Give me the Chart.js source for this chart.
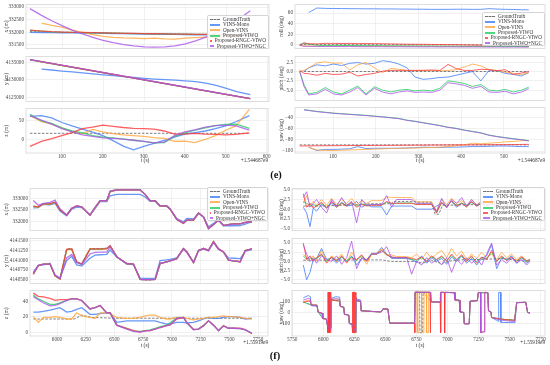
<!DOCTYPE html>
<html>
<head>
<meta charset="utf-8">
<script src="https://cdn.jsdelivr.net/npm/chart.js@4.4.0/dist/chart.umd.min.js"></script>
<style>
  body { margin: 0; background: #fff; }
  #fig { position: relative; width: 550px; height: 365px; overflow: hidden; background: #fff;
         font-family: "Liberation Serif", "DejaVu Serif", serif; color: #333; }
  #fig canvas { position: absolute; }
  .lbl { position: absolute; white-space: nowrap; line-height: 1; }
  .legend { position: absolute; box-sizing: border-box; background: rgba(255,255,255,0.88);
            border: 0.6px solid #d4d4d4; border-radius: 1.5px; padding: 1px 2px 0 2px; }
  .legend .row { display: flex; align-items: center; height: 5.35px; font-size: 5.2px; line-height: 1; white-space: nowrap; }
  .legend .sw { display: inline-block; width: 10px; height: 0; margin: 0 3px 0 0; }
</style>
</head>
<body>
<div id="fig"></div>
<script>
// series, in legend order
const seriesNames = ["GroundTruth", "VINS-Mono", "Open-VINS", "Proposed-VIWO", "Proposed-RNGC-VIWO", "Proposed-VIWO+NGC"];
const seriesColors = ["rgba(105,105,105,0.95)", "rgba(66,125,245,0.8)", "rgba(255,165,60,0.8)",
                      "rgba(35,205,95,0.8)", "rgba(255,55,60,0.8)", "rgba(170,85,230,0.8)"];

// tick values
const xTicksE = [100, 200, 300, 400, 500, 600];
const xTicksF = [5750, 6000, 6250, 6500, 6750, 7000, 7250, 7500, 7750];

// ---------- (e) position, t - 1.544687e9 ----------
const tEL = [22, 50, 75, 100, 125, 150, 175, 200, 225, 250, 275, 300, 325, 350, 375, 400, 425, 450, 475, 500, 525, 558];
const gtX_e = [332020, 332010, 332000, 331995, 331990, 331985, 331975, 331970, 331960, 331955, 331950, 331940, 331935, 331930, 331925, 331920, 331915, 331910, 331905, 331900, 331895, 331890];
const blueX_e = [331990, 331985, 331980, 331975, 331970, 331965, 331960, 331950, 331945, 331940, 331930, 331925, 331920, 331915, 331910, 331900, 331895, 331890, 331885, 331880, 331875, 331870];
const orangeX_e = [null, 332360, 332270, 332200, 332080, 331990, 331900, 331830, 331790, 331770, 331760, 331740, 331760, 331730, 331720, 331760, 331780, 331800, 331780, 331800, 331850, 331900];
const greenX_e = [332070, 332040, 332015, 332000, 331995, 331985, 331975, 331970, 331960, 331955, 331945, 331940, 331935, 331930, 331925, 331920, 331915, 331910, 331905, 331900, 331895, 331890];
const redX_e = [332080, 332045, 332020, 332005, 331995, 331988, 331978, 331970, 331962, 331955, 331948, 331942, 331936, 331930, 331925, 331920, 331915, 331910, 331905, 331900, 331895, 331890];
const purpleX_e = [332940, 332670, 332455, 332260, 332083, 331927, 331792, 331676, 331581, 331506, 331450, 331415, 331400, 331410, 331455, 331534, 331649, 331800, 331985, 332205, 332460, 332853];

const tELin = [22, 150, 306, 450, 558];
const tELinO = [46, 150, 306, 450, 558];
const gtY_e = [4135700, 4133080, 4129900, 4126950, 4124740];
const blueY_e = [null, 4133050, 4132800, 4132500, 4132250, 4132000, 4131720, 4131450, 4131200, 4130950, 4130700, 4130450, 4130250, 4130100, 4129950, 4129750, 4129550, 4129100, 4128500, 4127600, 4126700, 4125870];
const orangeY_e = [4135200, 4133090, 4129900, 4126940, 4124740];
const greenY_e = [4135690, 4133070, 4129880, 4126930, 4124720];
const redY_e = [4135710, 4133085, 4129890, 4126935, 4124730];
const purpleY_e = [4135720, 4133100, 4129910, 4126950, 4124750];

const tEGT = [22, 558];
const gtZ_e = [16, 16];
const blueZ_e = [60, 62, 56, 44, 35, 27, 19, 10, -3, -17, -27, -18, -10, -2, 6, 14, 18, 22, 28, 35, 46, 62];
const orangeZ_e = [62, 46, 40, 30, 20, 15, 26, 20, 15, 12, 10, 8, 5, 3, -5, -4, -8, 0, 10, 24, 35, 78];
const greenZ_e = [65, 48, 42, 30, 22, 17, 10, 6, 4, 1, -2, -5, -9, -8, 8, 17, 24, 30, 36, 39, 40, 29];
const redZ_e = [-18, -5, 2, 10, 18, 28, 32, 37, 34, 31, 29, 28, 27, 22, 14, 14, 16, 14, 13, 12, 13, 17];
const purpleZ_e = [62, 50, 40, 28, 20, 12, 8, 4, 3, 1, -2, -5, -9, -7, 10, 20, 25, 32, 36, 37, 35, 24];

// ---------- (e) attitude ----------
const tER = [22, 32, 43, 62, 82, 101, 120, 139, 158, 177, 197, 216, 235, 254, 273, 292, 311, 331, 350, 369, 388, 407, 426, 446, 465, 484, 503, 522, 541, 558];
const gtRoll_e = [0.2, -0.3];
const blueRoll_e = [null, null, 61, 69.5, 68.8, 68.6, 68.5, 68.3, 68.2, 68.0, 68.0, 67.8, 67.8, 67.6, 67.5, 67.3, 67.2, 67.0, 67.0, 67.0, 67.2, 67.2, 67.0, 67.0, 68.3, 67.5, 67.0, 66.8, 66.3, 66.0];
const orangeRoll_e = [-1.5, -2.5, -2.5, -2.8, -2.5, -2.6, -2.7, -2.5, -2.6, -2.8, -2.7, -2.8, -2.9, -2.8, -3.0, -3.0, -3.1, -3.0, -3.2, -3.1, -3.2, -3.3, -3.2, -3.3, -3.4, -3.3, -3.5, -3.4, -3.5, -3.5];
const greenRoll_e = [0.5, 3.0, 1.0, -1.0, -1.5, -1.2, -1.5, -1.4, -1.6, -1.8, -1.7, -2.0, -2.1, -2.2, -2.3, -2.4, -2.5, -2.6, -2.7, -2.8, -2.9, -3.0, -3.0, -3.1, -3.2, -3.3, -3.4, -3.4, -3.5, -3.6];
const redRoll_e = [-2.0, 3.5, 2.0, 1.5, 2.5, 2.5, 2.2, 2.5, 2.0, 2.2, 2.0, 1.8, 1.5, 1.2, 1.0, 0.8, 0.8, 0.5, 0.3, 0.2, 0.0, -0.3, -0.5, -0.8, -1.0, -1.2, -1.5, -1.5, -1.8, -2.0];
const purpleRoll_e = [-1.0, -3.0, -3.2, -3.3, -3.5, -3.4, -3.6, -3.5, -3.7, -3.8, -3.7, -3.8, -3.9, -3.9, -4.0, -4.0, -4.1, -4.0, -4.2, -4.1, -4.2, -4.3, -4.2, -4.3, -4.4, -4.3, -4.5, -4.4, -4.5, -4.5];

const gtPitch_e = [0.0, 0.0];
const bluePitch_e = [null, 0.0, 1.0, 1.8, 1.5, 2.0, 1.6, 2.2, 2.4, 2.0, 2.2, 2.9, 2.6, 2.0, 1.0, -1.5, -2.1, -1.9, -1.6, -1.5, -1.0, -0.5, 0.0, -2.5, 0.3, 0.2, -0.5, -0.8, -1.2, -0.3];
const orangePitch_e = [0.0, 0.3, 1.0, 2.3, 2.6, 2.2, 2.3, 0.4, 1.8, 2.4, 1.0, -0.3, 0.8, 0.6, 0.3, 0.3, 0.3, 0.3, 0.2, 0.3, 0.5, 1.2, 2.0, 1.5, 0.5, 0.3, -0.2, -0.5, -0.8, -0.3];
const greenPitch_e = [0.0, -3.5, -6.0, -5.6, -4.3, -5.5, -6.0, -5.0, -3.9, -6.0, -4.1, -5.0, -5.5, -5.0, -4.8, -5.2, -5.0, -5.2, -4.5, -2.5, -2.8, -3.2, -4.0, -3.5, -5.0, -5.2, -4.8, -5.5, -5.0, -4.2];
const redPitch_e = [0.3, -0.5, -0.6, -1.0, -0.5, -0.8, -0.7, -0.2, -1.2, -0.8, -0.5, 0.1, 0.3, 0.3, 0.3, 0.3, 0.3, 0.4, 0.3, 1.9, 0.8, 0.3, 0.3, 0.6, 0.5, 0.2, 0.5, -0.8, -0.4, 0.0];
const purplePitch_e = [0.0, -4.0, -6.3, -6.0, -4.8, -6.0, -6.3, -5.5, -4.3, -6.3, -4.5, -5.5, -6.0, -5.5, -5.2, -5.6, -5.5, -5.6, -5.0, -3.0, -3.3, -3.7, -4.5, -4.0, -5.5, -5.6, -5.3, -6.0, -5.5, -4.6];

const gtYaw_e = [-89, -89];
const blueYaw_e = [null, null, -93, -99, -97, -97, -96.5, -96, -92, -95.5, -95, -95, -95, -95, -94.5, -94, -93, -93.5, -93.5, -93, -93, -92.5, -92, -92, -91.5, -91, -91, -91.5, -92, -92];
const orangeYaw_e = [null, null, -93, -98, -99, -99, -98.5, -98, -97.5, -97, -96.5, -96, -95.5, -95, -95, -94.5, -94, -93.5, -93, -92, -90.5, -89, -86, -87, -86, -85, -83.5, -83, -81.5, -81];
const greenYaw_e = [null, -26.5, -27.5, -29.5, -31, -32.5, -33.5, -34.5, -35.5, -36.5, -37.8, -39, -40.5, -42, -45, -47, -49.5, -52, -54.5, -57.5, -59.5, -62.5, -65, -67.5, -71.5, -74, -76, -78, -79.5, -81.5];
const redYaw_e = [-91, -91, -90.8, -90.6, -90.5, -90.4, -90.3, -90.2, -90.1, -90, -90, -89.9, -89.8, -89.7, -89.6, -89.5, -89.4, -89.3, -89.2, -89.1, -89, -89, -88.9, -88.8, -88.7, -88.6, -88.5, -88.4, -88.2, -88];
const purpleYaw_e = [null, -27, -28, -30, -31.5, -33, -34, -35, -36, -37, -38.3, -39.5, -41, -42.5, -45.5, -47.5, -50, -52.5, -55, -58, -60, -63, -65.5, -68, -72, -74.5, -76.6, -78.5, -80, -82];

// ---------- (f) position, t - 1.55919e9 ----------
const tFL = [5794, 5837, 5881, 5939, 5983, 6026, 6084, 6128, 6171, 6215, 6287, 6331, 6375, 6433, 6462, 6520, 6607, 6665, 6723, 6767, 6810, 6854, 6897, 6955, 6984, 7042, 7100, 7130, 7188, 7231, 7275, 7318, 7362, 7405, 7449, 7492, 7536, 7594, 7638, 7696];
const gtX_f = [332650, 332630, 332760, 332760, 332830, 332500, 332280, 332570, 332670, 332630, 332280, 332600, 332900, 332900, 333300, 333380, 333380, 333380, 333380, 333170, 332900, 332900, 332680, 332680, 332550, 332110, 331940, 332080, 332080, 332370, 332210, 331720, 331890, 332070, 331850, 331890, 331920, 331920, 331970, 332000];
const blueX_f = [332590, 332600, 332740, 332720, 332780, 332450, 332250, 332530, 332620, 332600, 332280, 332560, 332850, 332850, 333100, 333160, 333160, 333160, 333160, 333050, 332870, 332870, 332650, 332650, 332540, 332130, 332000, 332140, 332120, 332370, 332220, 331790, 331930, 332100, 331830, 331830, 331830, 331840, 331900, 332000];
const orangeX_f = [332640, 332620, 332750, 332750, 332820, 332510, 332290, 332560, 332660, 332620, 332290, 332590, 332880, 332880, 333270, 333340, 333340, 333340, 333340, 333150, 332880, 332880, 332660, 332660, 332530, 332110, 331950, 332060, 332060, 332360, 332190, 331730, 331890, 332060, 331850, 331890, 331920, 331920, 331970, 332000];
const greenX_f = [332650, 332630, 332760, 332760, 332830, 332500, 332280, 332570, 332670, 332630, 332280, 332600, 332890, 332890, 333290, 333350, 333350, 333350, 333350, 333160, 332890, 332890, 332670, 332670, 332540, 332100, 331930, 332070, 332070, 332370, 332200, 331710, 331880, 332070, 331840, 331880, 331910, 331910, 331970, 332000];
const redX_f = [332660, 332630, 332760, 332760, 332830, 332500, 332280, 332570, 332670, 332630, 332280, 332600, 332895, 332895, 333290, 333355, 333355, 333355, 333355, 333160, 332895, 332895, 332670, 332670, 332540, 332100, 331930, 332070, 332070, 332370, 332200, 331710, 331880, 332070, 331840, 331880, 331910, 331910, 331970, 332000];
const purpleX_f = [332900, 332700, 332780, 332820, 332920, 332550, 332290, 332570, 332670, 332630, 332290, 332610, 332890, 332890, 333280, 333350, 333350, 333350, 333350, 333150, 332890, 332890, 332670, 332670, 332540, 332110, 331940, 332070, 332080, 332360, 332200, 331720, 331880, 332060, 331850, 331880, 331900, 331910, 331960, 332000];

const gtY_f = [4140640, 4140860, 4140900, 4140900, 4140600, 4140520, 4141290, 4141300, 4140960, 4140900, 4141300, 4141300, 4141300, 4141310, 4141380, 4141090, 4140920, 4140900, 4140500, 4140490, 4140490, 4140500, 4140920, 4140960, 4140980, 4141040, 4141310, 4141210, 4140940, 4141260, 4141310, 4141260, 4141490, 4141290, 4141210, 4141000, 4140980, 4140960, 4141260, 4141290];
const blueY_f = [4140700, 4140860, 4140880, 4140920, 4140620, 4140540, 4140990, 4141100, 4140880, 4140850, 4141050, 4141130, 4141140, 4141150, 4141260, 4141080, 4140900, 4140890, 4140540, 4140530, 4140530, 4140540, 4140990, 4141010, 4141020, 4141060, 4141280, 4141200, 4140960, 4141230, 4141290, 4141240, 4141450, 4141280, 4141210, 4141060, 4141050, 4141040, 4141230, 4141270];
const orangeY_f = [4140650, 4140860, 4140900, 4140900, 4140600, 4140520, 4141270, 4141280, 4140950, 4140900, 4141280, 4141280, 4141280, 4141290, 4141360, 4141090, 4140910, 4140900, 4140510, 4140500, 4140500, 4140510, 4140910, 4140960, 4140980, 4141040, 4141290, 4141210, 4140940, 4141250, 4141290, 4141250, 4141470, 4141290, 4141210, 4141000, 4140980, 4140960, 4141240, 4141290];
const greenY_f = [4140645, 4140860, 4140900, 4140900, 4140600, 4140520, 4141275, 4141285, 4140955, 4140900, 4141285, 4141285, 4141285, 4141295, 4141365, 4141090, 4140912, 4140900, 4140510, 4140500, 4140500, 4140510, 4140912, 4140960, 4140980, 4141040, 4141295, 4141210, 4140940, 4141250, 4141295, 4141250, 4141475, 4141290, 4141210, 4141000, 4140980, 4140960, 4141245, 4141290];
const redY_f = [4140640, 4140860, 4140900, 4140900, 4140600, 4140520, 4141280, 4141290, 4140960, 4140900, 4141290, 4141290, 4141290, 4141300, 4141370, 4141090, 4140915, 4140900, 4140510, 4140500, 4140500, 4140510, 4140915, 4140960, 4140980, 4141040, 4141300, 4141210, 4140940, 4141250, 4141300, 4141250, 4141480, 4141290, 4141210, 4141000, 4140980, 4140960, 4141250, 4141290];
const purpleY_f = [4140660, 4140870, 4140900, 4140900, 4140610, 4140530, 4141060, 4141150, 4140940, 4140890, 4141160, 4141200, 4141210, 4141210, 4141340, 4141090, 4140910, 4140900, 4140510, 4140500, 4140500, 4140510, 4140920, 4140960, 4140980, 4141040, 4141300, 4141210, 4140940, 4141250, 4141300, 4141250, 4141470, 4141290, 4141210, 4141010, 4140980, 4140960, 4141250, 4141290];

const tFGT = [5794, 6150, 6215, 6300, 6500, 7696];
const gtZ_f = [17, 17, 22, 19, 18, 18];
const blueZ_f = [26, 26, 27, 28.6, 30, 31.6, 26, 27, 29.5, 31.6, 23, 23, 24, 25, 25, 12.6, 14.7, 14.7, 14.7, 14.7, 14.7, 14.7, 12.6, 10.5, 10.5, 12.6, 12.6, 11.8, 12.6, 14.7, 17, 19, 17.7, 17.7, 19, 20, 20, 19, 17, 17.7];
const orangeZ_f = [20, 12.6, 19, 19, 20, 19, 17, 17, 25, 21, 19, 17.7, 25, 25, 24, 19, 17.7, 18, 19, 21, 22, 22, 19, 17, 17, 19, 19, 17.7, 16, 17, 17.7, 19, 19, 20, 21, 20, 20, 19, 17.7, 17];
const greenZ_f = [48, 43, 40, 36, 36, 38, 41, 43, 43, 41, 30, 31.6, 34.5, 25, 25, 9, 4.5, 1.5, 1, 2, 3, 5, 7, 9, 12, 18, 19, 12, 3.5, 4, 8.4, 14.7, 9, 2, 8, 5, 5, 4.5, 3, -1.5];
const redZ_f = [50.5, 46.3, 45.5, 43.8, 41, 42, 42, 43, 43, 41, 30, 31.6, 34.5, 25, 25, 9, 5, 2, 0, 2, 2, 4, 6, 8.4, 9.3, 17, 19, 12.6, 3.4, 4, 8.4, 14.7, 9.3, 2, 8.4, 5, 5, 5, 3.4, -2];
const purpleZ_f = [46, 42, 38, 34, 34.5, 37, 41, 43, 43, 41, 30, 31.6, 34.5, 25, 25, 9, 4, 1, 0, 1.5, 2, 4, 6, 8.4, 9.3, 18, 19, 12, 3, 4, 8.4, 14.7, 9, 2, 8, 5, 5, 4.5, 3, -1.5];

// ---------- (f) attitude ----------
const tFR = [5839, 5866, 5893, 5919, 5946, 5986, 6027, 6067, 6107, 6148, 6188, 6228, 6268, 6309, 6349, 6389, 6429, 6470, 6510, 6550, 6590, 6631, 6671, 6711, 6751, 6792, 6832, 6872, 6912, 6953, 6993, 7033, 7073, 7114, 7154, 7194, 7235, 7275, 7315, 7355, 7396, 7436, 7476, 7516, 7557, 7597, 7637, 7664];
const tFRollGT = [5839, 5946, 6148, 6389, 6550, 6560, 6740, 6751, 6872, 6900, 6930, 6960, 7235, 7476, 7664];
const gtRoll_f = [0.8, 0.8, 1.0, 1.4, 1.4, 2.0, 2.0, 1.8, 1.8, -1.3, -1.3, 1.0, 1.2, 1.3, 1.3];
const blueRoll_f = [0.5, -1.0, -4.5, 0.3, -0.5, 1.2, 0.3, 1.5, 0.5, 1.8, 0.8, 1.0, 2.0, 0.5, 1.2, 0.6, 0.6, 0.6, -1.5, 0.8, 0.8, 0.8, 0.8, 0.8, 0.0, 0.0, 0.0, 0.0, 0.8, 1.5, 0.8, 2.0, 0.5, 1.5, 1.0, 1.8, 0.8, 1.5, 0.3, 1.5, 0.5, 1.8, 1.0, 1.5, 0.8, 1.2, 0.5, 1.0];
const orangeRoll_f = [1.5, 3.5, 1.0, 2.0, 1.0, 2.5, 1.0, 2.8, 1.2, 2.5, 1.5, 2.8, 1.0, 2.2, 1.5, 2.2, 2.2, 2.2, 3.2, 3.0, 3.0, 3.0, 3.0, 3.0, 1.9, 1.9, 1.9, 1.9, -0.6, 2.5, 1.2, 2.8, 1.5, 2.2, 1.0, 2.5, 1.2, 2.0, 1.5, 2.2, 1.0, 2.5, 1.5, 2.0, 1.2, 2.5, 1.5, 2.0];
const greenRoll_f = [2.0, 1.5, 1.0, 1.2, 0.8, 1.5, 0.5, 1.8, 0.8, 1.6, 1.0, 1.5, 0.8, 1.4, 1.0, 1.1, 1.1, 1.1, 1.8, 1.3, 1.6, 1.6, 1.6, 1.6, 1.3, 1.3, 1.3, 1.3, -0.8, 1.6, 0.7, 2.0, 1.0, 1.6, 0.7, 1.8, 0.9, 1.6, 0.9, 1.8, 0.8, 2.0, 1.1, 1.6, 1.0, 1.9, 1.2, 1.4];
const redRoll_f = [4.0, 0.5, 1.5, 0.3, 0.8, 1.8, 0.2, 2.0, 0.5, 1.5, 0.8, 1.8, 0.5, 1.2, 0.8, 1.0, 1.0, 1.0, 2.0, 1.5, 1.5, 1.5, 1.5, 1.5, 1.2, 1.2, 1.2, 1.2, -1.0, 1.8, 0.5, 2.2, 0.8, 1.5, 0.5, 2.0, 0.8, 1.5, 0.8, 1.8, 0.5, 2.0, 1.0, 1.5, 0.8, 1.8, 1.0, 1.2];
const purpleRoll_f = [3.0, 4.5, 0.5, 1.5, 2.5, 0.5, -1.0, 2.5, 0.8, 3.0, 1.0, 2.0, -3.5, 2.5, 1.0, 1.2, 1.2, 1.2, 3.5, 0.5, 2.5, 2.5, 2.5, 2.5, 1.5, 1.5, 1.5, 1.5, -0.5, 2.8, 0.3, 2.5, 1.5, 3.0, 0.8, 2.5, 1.0, 2.0, 1.0, 2.5, 1.5, 2.8, 0.8, 2.0, 1.5, 2.8, 2.0, 2.5];

const tFPitchGT = [5839, 6389, 6470, 6550, 6738, 6800, 6870, 6950, 7033, 7114, 7275, 7436, 7557, 7664];
const gtPitch_f = [0.3, 0.4, 0.4, 0.0, 0.0, -0.5, 0.3, -0.6, 0.2, 0.4, 0.5, 0.8, 0.3, 0.0];
const bluePitch_f = [-1, -5, -3, 0.5, 0.8, 3.5, 0.5, 1.0, -0.5, 1.2, 0.0, 1.5, -1.0, 0.8, 0.3, 2.2, 2.2, 3.8, 2.0, 0.8, 0.8, 0.8, 0.8, 0.5, -0.3, 1.5, -0.5, 1.0, 0.0, 0.8, -0.8, 1.2, 0.0, 1.5, -0.5, 0.8, -1.0, 0.8, 1.5, 4.5, -2.0, 1.0, 0.5, 1.5, -0.5, 1.0, -0.5, 0.3];
const orangePitch_f = [2.0, 1.0, 0.5, 1.5, 0.2, 3.0, 0.0, 1.5, 0.5, 2.0, -0.5, 2.5, 0.3, 1.5, -0.8, 2.0, 2.0, 3.5, 1.8, 1.8, 1.3, 1.3, 1.3, 1.0, 2.0, 0.5, 2.5, 0.8, 2.0, 3.0, 1.0, 3.5, 1.5, 2.8, 0.5, 2.0, 0.8, 2.5, 1.0, 2.0, 0.5, 2.5, 1.0, 2.0, 0.5, 1.5, 0.0, 0.5];
const greenPitch_f = [1.5, 0.5, 1.0, 0.5, 0.8, 1.8, 0.0, 1.0, 0.3, 1.2, 0.2, 1.2, 0.3, 1.5, 0.2, 2.0, 2.0, 3.0, 1.8, 1.1, 1.0, 1.0, 1.0, 0.5, 0.3, 1.0, 0.2, 1.2, 0.4, 1.2, 0.2, 1.6, 0.4, 1.5, 0.2, 1.2, 0.0, 1.0, 0.6, 2.5, 0.0, 1.2, 0.3, 1.0, 0.1, 1.0, 0.0, 0.4];
const redPitch_f = [5.0, 0.5, 1.5, 0.0, 1.0, 2.0, -0.5, 1.2, 0.0, 1.5, -0.3, 1.0, 0.5, 1.8, 0.0, 2.0, 2.0, 3.0, 1.8, 1.2, 1.0, 1.0, 1.0, 0.8, 0.5, 1.2, 0.0, 1.5, 0.5, 1.5, 0.0, 2.0, 0.5, 1.8, 0.0, 1.5, -0.5, 1.2, 0.5, 3.0, 0.0, 1.5, 0.2, 1.2, 0.0, 1.2, 0.2, 0.5];
const purplePitch_f = [4.5, 2.0, 0.0, 1.0, -0.5, 1.5, 0.5, 0.0, 1.5, -0.8, 1.0, 5.5, -2.0, 1.0, 0.5, 2.0, 2.0, 2.5, 4.0, 1.0, 1.0, 1.0, 1.0, -3.5, 0.0, -1.0, 1.0, -0.5, 0.5, -1.0, 1.0, -3.0, 0.5, -0.8, 1.0, -0.5, 0.8, -1.0, 2.0, 5.0, -1.0, 0.5, -0.5, 1.0, -0.5, 0.5, -1.0, 0.0];

// yaw wraps at +-180, so each series keeps its own time stamps
const gtYawT = [5839, 5902, 5950, 5958, 5996, 6025, 6033, 6062, 6064, 6132, 6136, 6165, 6170, 6205, 6210, 6232, 6240, 6243, 6262, 6266, 6300, 6305, 6465, 6480, 6520, 6535, 6735, 6739, 6775, 6778, 6800, 6803, 6868, 6940, 6944, 7055, 7060, 7095, 7100, 7130, 7135, 7175, 7182, 7240, 7248, 7325, 7330, 7350, 7355, 7436, 7540, 7557, 7630, 7645, 7664];
const gtYaw_f = [92, 67, 64, 4, -54, -59, -111, -140, 112, 102, 55, 45, -15, -25, -96, -101, -180, 180, 178, 106, 96, 15, 5, 30, 30, -95, -95, 180, 180, -180, -180, 180, 95, 92, 178, 176, 110, 108, 5, 0, -100, -100, 100, 105, 176, 176, 15, 5, -45, -60, -68, 88, 90, 0, -5];
const blueYawT = [5839, 5879, 5896, 5902, 5950, 5958, 5990, 5996, 6025, 6033, 6062, 6064, 6100, 6132, 6136, 6165, 6170, 6205, 6210, 6232, 6236, 6262, 6266, 6300, 6305, 6400, 6465, 6480, 6520, 6535, 6735, 6739, 6860, 6868, 6940, 6944, 6975, 7055, 7060, 7095, 7100, 7130, 7135, 7175, 7182, 7240, 7248, 7300, 7325, 7330, 7350, 7355, 7395, 7410, 7412, 7428, 7430, 7489, 7543, 7557, 7630, 7645, 7664];
const blueYaw_f = [130, 150, 140, 60, 55, 0, -10, -50, -58, -115, -130, 125, 140, 135, 55, 45, -15, -25, -100, -110, -175, -175, 120, 110, 15, 8, 5, 32, 32, -95, -95, 180, 178, 95, 92, 178, 178, 175, 112, 108, 5, 0, -100, -100, 100, 105, 175, 175, 175, 15, 5, -45, -70, -80, 178, 178, -88, -90, -90, 85, 90, 0, -5];
const orangeYawT = [5839, 5879, 5896, 5902, 5950, 5958, 5990, 5996, 6025, 6033, 6062, 6064, 6100, 6132, 6136, 6165, 6170, 6205, 6210, 6232, 6238, 6242, 6246, 6252, 6262, 6266, 6300, 6305, 6400, 6465, 6480, 6520, 6535, 6735, 6739, 6755, 6757, 6770, 6772, 6790, 6792, 6810, 6812, 6830, 6832, 6845, 6848, 6868, 6940, 6944, 7055, 7060, 7095, 7100, 7130, 7135, 7175, 7182, 7240, 7248, 7300, 7325, 7330, 7350, 7355, 7436, 7540, 7557, 7630, 7645, 7664];
const orangeYaw_f = [95, 108, 104, 66, 62, 3, -6, -54, -60, -112, -140, 115, 118, 112, 55, 45, -15, -25, -96, -102, -180, 180, -180, 180, -178, 108, 98, 15, 8, 5, 30, 30, -95, -95, 180, 180, -180, -180, 180, 180, -180, -180, 180, 180, -180, -180, 180, 95, 92, 178, 176, 111, 108, 5, 0, -100, -100, 100, 105, 176, 176, 176, 15, 5, -45, -62, -72, 87, 90, 0, -5];
const greenYawT = [5839, 5902, 5950, 5958, 5996, 6025, 6033, 6062, 6064, 6132, 6136, 6165, 6170, 6205, 6210, 6232, 6262, 6266, 6300, 6305, 6465, 6480, 6520, 6535, 6735, 6739, 6865, 6868, 6940, 6944, 7055, 7060, 7095, 7100, 7130, 7135, 7175, 7182, 7240, 7248, 7325, 7330, 7350, 7355, 7436, 7540, 7557, 7630, 7645, 7664];
const greenYaw_f = [92, 67, 64, 4, -54, -59, -111, -140, 112, 102, 55, 45, -15, -25, -96, -101, -178, 106, 96, 15, 5, 30, 30, -95, -95, 178, 178, 94, 92, 178, 176, 110, 108, 5, 0, -100, -100, 100, 105, 176, 176, 15, 5, -45, -60, -68, 88, 90, 0, -5];
const redYawT = [5839, 5879, 5896, 5902, 5950, 5958, 5990, 5996, 6025, 6033, 6036, 6038, 6042, 6046, 6050, 6054, 6058, 6061, 6064, 6100, 6132, 6136, 6165, 6170, 6205, 6210, 6232, 6234, 6237, 6241, 6245, 6249, 6253, 6257, 6261, 6266, 6300, 6305, 6400, 6465, 6480, 6520, 6535, 6735, 6737, 6739, 6860, 6862, 6864, 6868, 6940, 6944, 6946, 6949, 6975, 6977, 6980, 7055, 7060, 7095, 7100, 7130, 7135, 7175, 7182, 7240, 7248, 7266, 7268, 7270, 7298, 7300, 7325, 7330, 7350, 7355, 7390, 7436, 7480, 7540, 7557, 7630, 7645, 7664];
const redYaw_f = [90, 100, 98, 68, 65, 5, -5, -55, -60, -110, -180, 180, -180, 180, -180, 180, -180, 180, 110, 105, 100, 55, 45, -15, -25, -95, -100, -180, 180, -180, 180, -180, 180, -180, 180, 105, 95, 15, 8, 5, 30, 30, -95, -95, -180, 180, 180, -180, 180, 95, 92, 180, -180, 180, 178, -180, 180, 175, 110, 108, 5, 0, -100, -100, 100, 105, 175, 178, -180, -175, -170, 180, 175, 15, 5, -45, -50, -60, -65, -70, 88, 90, 0, -5];
const purpleYawT = [5839, 5879, 5896, 5902, 5950, 5958, 5990, 5996, 6025, 6033, 6062, 6064, 6100, 6132, 6136, 6165, 6170, 6205, 6210, 6232, 6262, 6266, 6300, 6305, 6400, 6465, 6480, 6520, 6535, 6735, 6739, 6865, 6868, 6940, 6944, 7055, 7060, 7095, 7100, 7130, 7135, 7175, 7182, 7240, 7248, 7266, 7268, 7298, 7300, 7325, 7330, 7350, 7355, 7390, 7436, 7480, 7540, 7557, 7630, 7645, 7664];
const purpleYaw_f = [110, 125, 118, 64, 60, 3, -8, -52, -59, -112, -150, 118, 122, 118, 56, 45, -15, -25, -97, -105, -178, 112, 102, 15, 8, 5, 31, 31, -95, -95, 178, 178, 93, 91, 178, 176, 111, 108, 5, 0, -100, -100, 100, 105, 176, 178, -178, -172, 178, 176, 15, 5, -45, -58, -68, -75, -80, 87, 90, 0, -5];

// ---------- drawing ----------
const FONT = '"Liberation Serif", "DejaVu Serif", serif';
const fig = document.getElementById("fig");

const framePlugin = {
  id: "frame",
  afterDraw(chart) {
    const a = chart.chartArea, ctx = chart.ctx;
    ctx.save();
    ctx.strokeStyle = "#d6d6d6";
    ctx.lineWidth = 0.8;
    ctx.strokeRect(a.left, a.top, a.right - a.left, a.bottom - a.top);
    ctx.restore();
  }
};

function fmt(v, dec) {
  const s = Math.abs(v).toFixed(dec);
  return (v < 0 ? "\u2212" : "") + s;
}

function xy(ts, vs) {
  return ts.map((t, i) => ({ x: t, y: vs[i] }));
}

// panel: x0, left, right, xMin, xMax, xTicks, titlePad; sub: top, bottom, yMin, yMax, yTicks, title, dec, showX, series
function addPlot(panel, sub) {
  const padT = 3, padR = 3;
  const xH = sub.showX ? 8 : 0;
  const padB = sub.showX ? 0 : 3;
  const w = panel.right - panel.x0 + padR;
  const h = sub.bottom - sub.top + padT + padB + xH;
  const c = document.createElement("canvas");
  c.width = w; c.height = h;
  c.style.left = panel.x0 + "px";
  c.style.top = (sub.top - padT) + "px";
  c.style.width = w + "px"; c.style.height = h + "px";
  fig.appendChild(c);

  const datasets = sub.series.map((s, i) => ({
    label: seriesNames[i],
    data: xy(s[0], s[1]),
    borderColor: seriesColors[i],
    borderWidth: i === 0 ? 0.9 : panel.lw,
    borderDash: i === 0 ? [2.5, 1.5] : [],
    pointRadius: 0,
    tension: 0,
    fill: false,
    spanGaps: false,
    order: -i
  }));

  const gridOpts = { color: "#e8e8e8", lineWidth: 0.6, drawTicks: false };

  new Chart(c, {
    type: "line",
    data: { datasets },
    options: {
      responsive: false,
      animation: false,
      events: [],
      layout: { padding: { top: padT, right: padR, bottom: padB, left: 0 } },
      plugins: { legend: { display: false }, tooltip: { enabled: false } },
      scales: {
        x: {
          type: "linear",
          min: panel.xMin,
          max: panel.xMax,
          afterBuildTicks: (s) => {
            s.ticks = panel.xTicks.filter((v) => v >= panel.xMin && v <= panel.xMax).map((v) => ({ value: v }));
          },
          afterFit: (s) => { s.height = xH; },
          grid: gridOpts,
          border: { display: false },
          ticks: {
            display: !!sub.showX,
            autoSkip: false,
            maxRotation: 0,
            padding: 1.5,
            color: "#444",
            font: { family: FONT, size: 5.2, lineHeight: 1 },
            callback: (v) => String(v)
          }
        },
        y: {
          min: sub.yMin,
          max: sub.yMax,
          afterBuildTicks: (s) => { s.ticks = sub.yTicks.map((v) => ({ value: v })); },
          afterFit: (s) => { s.width = panel.left - panel.x0; },
          grid: gridOpts,
          border: { display: false },
          ticks: {
            autoSkip: false,
            padding: 2,
            color: "#444",
            font: { family: FONT, size: 5.2, lineHeight: 1 },
            callback: (v) => fmt(v, sub.dec || 0)
          },
          title: {
            display: true,
            text: sub.title,
            color: "#333",
            font: { family: FONT, size: 5.5, lineHeight: 1.2 },
            padding: { top: panel.titlePad, bottom: 0 }
          }
        }
      }
    },
    plugins: [framePlugin]
  });
}

function addText(text, x, y, size, anchor, bold) {
  const d = document.createElement("div");
  d.className = "lbl";
  d.textContent = text;
  d.style.left = x + "px";
  d.style.top = y + "px";
  d.style.fontSize = size + "px";
  if (bold) { d.style.fontWeight = "bold"; d.style.color = "#111"; }
  d.style.transform = anchor === "right" ? "translate(-100%,-50%)" : "translate(-50%,-50%)";
  fig.appendChild(d);
}

function addLegend(x, y, w, h) {
  const box = document.createElement("div");
  box.className = "legend";
  box.style.left = x + "px"; box.style.top = y + "px";
  box.style.width = w + "px"; box.style.height = h + "px";
  seriesNames.forEach((n, i) => {
    const row = document.createElement("div");
    row.className = "row";
    const sw = document.createElement("span");
    sw.className = "sw";
    sw.style.borderTop = i === 0 ? "1px dashed " + seriesColors[0] : "2.2px solid " + seriesColors[i];
    row.appendChild(sw);
    row.appendChild(document.createTextNode(n));
    box.appendChild(row);
  });
  fig.appendChild(box);
}

// (e) left: position
const PE_L = { x0: 0, left: 26, right: 269, xMin: 12.4, xMax: 603.6, xTicks: xTicksE, titlePad: 3.5, lw: 1.3 };
addPlot(PE_L, { top: 3, bottom: 50, yMin: 331352, yMax: 333100, yTicks: [331500, 332000, 332500, 333000], title: "x (m)",
  series: [[tEL, gtX_e], [tEL, blueX_e], [tEL, orangeX_e], [tEL, greenX_e], [tEL, redX_e], [tEL, purpleX_e]] });
addPlot(PE_L, { top: 55, bottom: 103, yMin: 4123950, yMax: 4136580, yTicks: [4125000, 4130000, 4135000], title: "y (m)",
  series: [[tELin, gtY_e], [tEL, blueY_e], [tELinO, orangeY_e], [tELin, greenY_e], [tELin, redY_e], [tELin, purpleY_e]] });
addPlot(PE_L, { top: 107, bottom: 153, yMin: -35, yMax: 80, yTicks: [0, 50], title: "z (m)", showX: true,
  series: [[tEGT, gtZ_e], [tEL, blueZ_e], [tEL, orangeZ_e], [tEL, greenZ_e], [tEL, redZ_e], [tEL, purpleZ_e]] });

// (e) right: attitude
const PE_R = { x0: 275, left: 295, right: 545, xMin: 11, xMax: 596, xTicks: xTicksE, titlePad: 2.8, lw: 1.0 };
addPlot(PE_R, { top: 3, bottom: 50, yMin: -7, yMax: 76, yTicks: [0, 20, 40, 60], title: "roll (deg)",
  series: [[tEGT, gtRoll_e], [tER, blueRoll_e], [tER, orangeRoll_e], [tER, greenRoll_e], [tER, redRoll_e], [tER, purpleRoll_e]] });
addPlot(PE_R, { top: 55, bottom: 102, yMin: -7.75, yMax: 4.0, yTicks: [-5, -2.5, 0, 2.5], dec: 1, title: "pitch (deg)",
  series: [[tEGT, gtPitch_e], [tER, bluePitch_e], [tER, orangePitch_e], [tER, greenPitch_e], [tER, redPitch_e], [tER, purplePitch_e]] });
addPlot(PE_R, { top: 106, bottom: 153, yMin: -103.4, yMax: -22.8, yTicks: [-100, -80, -60, -40], title: "yaw (deg)", showX: true,
  series: [[tEGT, gtYaw_e], [tER, blueYaw_e], [tER, orangeYaw_e], [tER, greenYaw_e], [tER, redYaw_e], [tER, purpleYaw_e]] });

// (f) left: position
const PF_L = { x0: 0, left: 30, right: 268, xMin: 5765, xMax: 7836, xTicks: xTicksF, titlePad: 3.5, lw: 1.3 };
addPlot(PF_L, { top: 187, bottom: 232, yMin: 331634, yMax: 333405, yTicks: [332000, 332500, 333000], title: "x (m)",
  series: [[tFL, gtX_f], [tFL, blueX_f], [tFL, orangeX_f], [tFL, greenX_f], [tFL, redX_f], [tFL, purpleX_f]] });
addPlot(PF_L, { top: 237, bottom: 285, yMin: 4140404, yMax: 4141555, yTicks: [4140500, 4140750, 4141000, 4141250, 4141500], title: "y (m)",
  series: [[tFL, gtY_f], [tFL, blueY_f], [tFL, orangeY_f], [tFL, greenY_f], [tFL, redY_f], [tFL, purpleY_f]] });
addPlot(PF_L, { top: 289, bottom: 336, yMin: -5, yMax: 53.75, yTicks: [0, 20, 40], title: "z (m)", showX: true,
  series: [[tFGT, gtZ_f], [tFL, blueZ_f], [tFL, orangeZ_f], [tFL, greenZ_f], [tFL, redZ_f], [tFL, purpleZ_f]] });

// (f) right: attitude
const PF_R = { x0: 275, left: 292, right: 545, xMin: 5748, xMax: 7785, xTicks: xTicksF, titlePad: 2.8, lw: 1.0 };
addPlot(PF_R, { top: 187, bottom: 232, yMin: -5.48, yMax: 5.31, yTicks: [-5, -2.5, 0, 2.5, 5], dec: 1, title: "roll (deg)",
  series: [[tFRollGT, gtRoll_f], [tFR, blueRoll_f], [tFR, orangeRoll_f], [tFR, greenRoll_f], [tFR, redRoll_f], [tFR, purpleRoll_f]] });
addPlot(PF_R, { top: 237, bottom: 285, yMin: -6.0, yMax: 6.2, yTicks: [-5, -2.5, 0, 2.5, 5], dec: 1, title: "pitch (deg)",
  series: [[tFPitchGT, gtPitch_f], [tFR, bluePitch_f], [tFR, orangePitch_f], [tFR, greenPitch_f], [tFR, redPitch_f], [tFR, purplePitch_f]] });
addPlot(PF_R, { top: 289, bottom: 336, yMin: -209, yMax: 194, yTicks: [-100, 0, 100], title: "yaw (deg)", showX: true,
  series: [[gtYawT, gtYaw_f], [blueYawT, blueYaw_f], [orangeYawT, orangeYaw_f], [greenYawT, greenYaw_f], [redYawT, redYaw_f], [purpleYawT, purpleYaw_f]] });

// legends
addLegend(207, 15, 62, 34);
addLegend(482, 12, 63, 34);
addLegend(207, 187, 61, 34);
addLegend(480, 187, 65, 34);

// axis labels, offsets and panel tags
addText("t (s)", 145, 161, 5.5);
addText("t (s)", 420, 161, 5.5);
addText("+1.544687e9", 268, 161, 5.2, "right");
addText("+1.544687e9", 545, 161, 5.2, "right");
addText("t (s)", 145, 346, 5.5);
addText("t (s)", 420, 346, 5.5);
addText("+1.55919e9", 268, 343, 5.2, "right");
addText("+1.55919e9", 545, 343, 5.2, "right");
addText("(e)", 276, 175, 10.5, "center", true);
addText("(f)", 275, 356, 10.5, "center", true);
</script>
</body>
</html>
